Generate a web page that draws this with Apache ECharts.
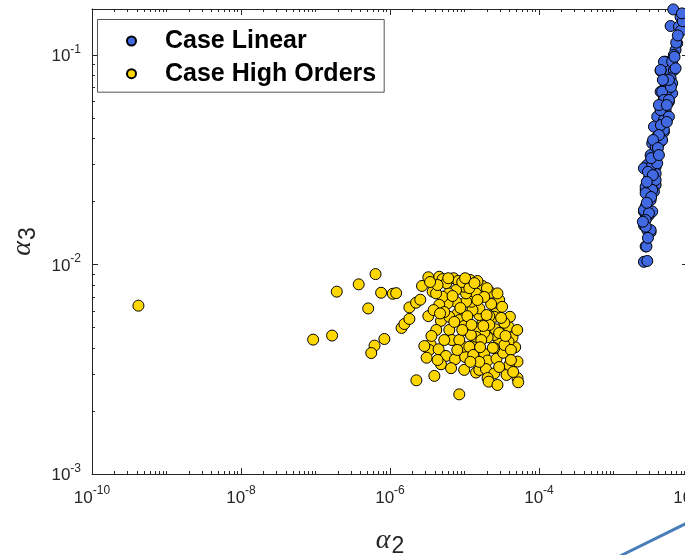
<!DOCTYPE html>
<html><head><meta charset="utf-8">
<script src="https://cdn.jsdelivr.net/npm/echarts@6/dist/echarts.min.js"></script>
<style>html,body{margin:0;padding:0;background:#fff}#c{width:685px;height:555px}</style>
</head><body><div id="c"></div>
<script>
const seriesNames = ['Case Linear', 'Case High Orders'];

const linearAlpha2 = [6.35e-3,7.95e-3,5.84e-3,7.54e-3,8.06e-3,7.16e-3,6.81e-3,6.46e-3,6.13e-3,5.0e-3,5.26e-3,4.29e-3,6.46e-3,5.84e-3,5.0e-3,4.29e-3,5.26e-3,6.13e-3,4.75e-3,5.54e-3,4.29e-3,5.0e-3,3.86e-3,4.75e-3,3.49e-3,4.75e-3,3.86e-3,3.31e-3,4.29e-3,3.86e-3,3.15e-3,3.49e-3,2.84e-3,3.68e-3,2.56e-3,3.15e-3,3.68e-3,2.99e-3,3.31e-3,2.99e-3,3.68e-3,2.70e-3,3.49e-3,2.84e-3,3.15e-3,2.70e-3,2.56e-3,2.99e-3,3.31e-3,2.70e-3,2.56e-3,2.84e-3,3.15e-3,2.70e-3,2.56e-3,2.84e-3,
6.94e-3,4.75e-3,6.13e-3,4.29e-3,6.81e-3,6.13e-3,5.26e-3,4.5e-3,4.75e-3,5.54e-3,4.29e-3,5.54e-3,4.75e-3,4.5e-3,3.68e-3,3.31e-3,3.86e-3,3.15e-3,3.68e-3,2.70e-3,3.31e-3,2.70e-3,2.56e-3,2.99e-3,2.70e-3,3.15e-3,2.70e-3,2.77e-3,4.07e-3,5.2e-3,4.33e-3,5.2e-3,4.07e-3,3.4e-3,3.95e-3,3.2e-3,4.07e-3,2.9e-3,3.37e-3,2.8e-3,3.2e-3,2.8e-3,2.48e-3,2.9e-3,5.9e-3,5.54e-3,4.6e-3,
8.5e-3,7.3e-3,6.6e-3,8.3e-3];
const linearAlpha3 = [0.165,0.152,0.1375,0.1365,0.1306,0.1137,0.1056,0.1,0.0947,0.0929,0.0848,0.0841,0.0848,0.0774,0.0706,0.0668,0.0656,0.0656,0.0621,0.0598,0.0557,0.0546,0.0508,0.0489,0.0455,0.043,0.0407,0.0379,0.0386,0.0345,0.0333,0.0315,0.0299,0.0293,0.0288,0.0277,0.0272,0.0258,0.0244,0.0244,0.024,0.0227,0.0223,0.0215,0.0203,0.0189,0.0179,0.0172,0.0179,0.0166,0.0154,0.0146,0.0143,0.0122,0.0103,0.0104,
0.1145,0.0929,0.0929,0.0848,0.0864,0.0733,0.0681,0.0668,0.061,0.061,0.0546,0.0508,0.0439,0.0393,0.0365,0.0299,0.0304,0.0263,0.0253,0.0235,0.0227,0.0219,0.0182,0.0176,0.0163,0.0146,0.01515,0.0122,0.0577,0.0577,0.0463,0.0479,0.0415,0.0393,0.036,0.0322,0.0333,0.0277,0.0267,0.0248,0.021,0.0197,0.016,0.0134,0.0704,0.076,0.076,
0.145,0.124,0.098,0.158];

const highAlpha2 = [4.2e-10,9.3e-8,1.67e-7,1.93e-7,3.8e-7,6.4e-7,5.1e-7,7.6e-7,1.09e-6,1.21e-6,8.4e-7,6.2e-7,5.6e-7,2.26e-6,3.94e-6,8.51e-6,1.43e-6,1.56e-6,1.82e-6,1.82e-6,2.24e-6,2.55e-6,3.27e-6,2.69e-6,3.27e-6,3.74e-6,4.58e-6,5.08e-6,7.14e-6,8.25e-6,1.19e-5,1.75e-5,2.26e-5,4.83e-6,6.25e-6,6.79e-6,3.51e-6,3.37e-6,3.1e-6,4.49e-6,5.64e-6,4.83e-6,7.45e-6,1.02e-5,9.62e-6,1.11e-5,1.43e-5,1.43e-5,1.84e-5,2.04e-5,2.69e-5,3.31e-5,1.43e-5,1.58e-5,1.94e-5,2.51e-5,2.04e-5,2.11e-5,3.67e-5,5.15e-5,5.26e-5,5.15e-5,4.79e-5,3.9e-5,4.07e-5,4.41e-5,3.9e-5,2.92e-5,2.51e-5,2.59e-5,2.04e-5,1.84e-5,3.42e-5,2.64e-5,2.51e-5,2.15e-5,1.75e-5,1.58e-5,1.58e-5,1.28e-5,1.24e-5,1.05e-5,7.69e-6,5.93e-6,8.08e-6,6.25e-6,8.51e-6,9.9e-6,1.43e-5,1.05e-5,9.9e-6,7.69e-6,6.12e-6,5.08e-6,4.15e-6,1.43e-5,1.43e-5,1.22e-5,1.16e-5,1.31e-5,
5.7e-6,9.33e-6,1.49e-5,2.0e-5,2.92e-5,3.2e-5,2.28e-5,1.84e-5,1.16e-5,6.9e-6,4.58e-6,3.85e-6,5.35e-6,1.09e-5,7.3e-6,1.24e-5,2.15e-5,2.92e-5,1.68e-5,3.42e-5,8.51e-6,5.35e-6,4.18e-6,8.0e-6,1.58e-5,2.51e-5,3.98e-5,2.92e-5,4.2e-5,5.1e-5,9.9e-6,6.6e-6,4.35e-6,3.6e-6,2.89e-6,2.77e-5,4.5e-5,2.4e-5,3.55e-5,1.98e-5,1.49e-5,8.8e-6,4.35e-6,3.45e-6,6.05e-6,1.02e-5,1.36e-5,4.7e-6,9.33e-6,1.79e-5,1.62e-5,1.2e-5,3.1e-5,2.77e-5,4.2e-5];
const highAlpha3 = [6.36e-3,4.38e-3,4.58e-3,7.42e-3,8.04e-3,9.0e-3,6.17e-3,7.33e-3,7.25e-3,7.3e-3,4.41e-3,4.1e-3,3.78e-3,2.8e-3,2.94e-3,2.4e-3,4.98e-3,5.2e-3,5.5e-3,6.24e-3,6.57e-3,6.79e-3,5.67e-3,7.9e-3,8.69e-3,7.42e-3,8.74e-3,8.51e-3,8.6e-3,8.35e-3,8.44e-3,7.9e-3,7.33e-3,5.38e-3,4.87e-3,4.36e-3,4.16e-3,3.91e-3,3.59e-3,3.94e-3,3.66e-3,3.34e-3,3.53e-3,3.62e-3,4.05e-3,4.82e-3,4.17e-3,3.67e-3,3.74e-3,3.48e-3,3.55e-3,3.79e-3,3.05e-3,3.14e-3,3.17e-3,3.02e-3,2.87e-3,2.76e-3,2.97e-3,2.87e-3,2.74e-3,3.44e-3,4.03e-3,5.05e-3,5.63e-3,4.49e-3,4.28e-3,4.25e-3,4.61e-3,4.91e-3,4.49e-3,4.73e-3,5.27e-3,5.84e-3,5.63e-3,5.67e-3,5.33e-3,5.74e-3,6.17e-3,6.06e-3,6.64e-3,6.64e-3,6.64e-3,6.53e-3,5.84e-3,5.63e-3,5.43e-3,5.09e-3,7.28e-3,7.28e-3,7.83e-3,7.55e-3,7.28e-3,7.02e-3,7.28e-3,4.96e-3,4.52e-3,4.61e-3,4.05e-3,3.7e-3,
8.15e-3,8.25e-3,8.34e-3,7.71e-3,6.77e-3,6.28e-3,6.48e-3,7.0e-3,7.71e-3,7.07e-3,6.42e-3,6.06e-3,5.93e-3,5.67e-3,5.32e-3,5.15e-3,5.15e-3,4.71e-3,4.36e-3,4.13e-3,4.36e-3,4.36e-3,4.87e-3,3.91e-3,3.43e-3,3.99e-3,3.31e-3,3.24e-3,3.91e-3,4.87e-3,3.14e-3,3.2e-3,3.5e-3,4.56e-3,4.08e-3,2.66e-3,3.07e-3,4.0e-3,4.56e-3,5.74e-3,6.77e-3,6.2e-3,7.98e-3,8.25e-3,8.6e-3,8.6e-3,8.15e-3,5.84e-3,4.87e-3,5.09e-3,4.03e-3,3.43e-3,5.56e-3,7.28e-3,3.5e-3];

const xRange = [1e-10, 1e-2];
const yRange = [1e-3, 0.1658];
const xMajorTicks = [1e-10, 1e-8, 1e-6, 1e-4, 1e-2];
const xTickLabels = ['-10', '-8', '-6', '-4', '-2'];
const yMajorTicks = [1e-3, 1e-2, 1e-1];
const yTickLabels = ['-3', '-2', '-1'];

function isMajor(v, majors) { return majors.some(t => Math.abs(Math.log10(t) - Math.log10(v)) < 1e-6); }
function minorTicks(majors, range) {
  const out = [];
  const k0 = Math.floor(Math.log10(range[0]) + 1e-9), k1 = Math.ceil(Math.log10(range[1]) - 1e-9);
  for (let k = k0; k < k1; k++) for (let m = 2; m <= 10; m++) {
    const v = m * Math.pow(10, k);
    if (v < range[0] * 0.999 || v > range[1] * 1.001) continue;
    if (!isMajor(v, majors)) out.push(v);
  }
  return out;
}
const xMinor = minorTicks(xMajorTicks, xRange);
const yMinor = minorTicks(yMajorTicks, yRange);

const TXT = '#262626';
const rich = {
  b: { fontFamily: 'Liberation Sans', fontSize: 17, color: TXT, padding: [3, 0, 0, 0] },
  s: { fontFamily: 'Liberation Sans', fontSize: 12, color: TXT, padding: [0, 0, 11, 0] }
};
function fmt(majors, labels) {
  return function (v) {
    for (let i = 0; i < majors.length; i++) if (Math.abs(Math.log10(majors[i]) - Math.log10(v)) < 1e-6) return '{b|10}{s|' + labels[i] + '}';
    return '';
  };
}
const lineStyle = { color: TXT, width: 1 };
const nameRich = () => ({ rich: {
  a: { fontFamily: 'Liberation Serif', fontStyle: 'italic', fontSize: 28, color: TXT },
  n: { fontFamily: 'Liberation Sans', fontSize: 23, color: TXT, padding: [12, 0, 0, 1] } } });
function mkX(pos, major, withLabel) {
  const a = {
    type: 'log', logBase: 10, min: xRange[0], max: xRange[1], position: pos, gridIndex: 0,
    axisLine: { show: major, onZero: false, lineStyle },
    axisTick: { show: true, inside: true, length: major ? 6 : 3, customValues: major ? xMajorTicks : xMinor, lineStyle },
    minorTick: { show: false }, splitLine: { show: false },
    axisLabel: withLabel ? { customValues: xMajorTicks, formatter: fmt(xMajorTicks, xTickLabels), rich, margin: 11, fontSize: 17, fontFamily: 'Liberation Sans', color: TXT } : { show: false }
  };
  if (withLabel) {
    a.name = '{a|α}{n|2}';
    a.nameLocation = 'middle';
    a.nameGap = 49;
    a.nameTextStyle = nameRich();
  }
  return a;
}
function mkY(pos, major, withLabel) {
  const a = {
    type: 'log', logBase: 10, min: yRange[0], max: yRange[1], position: pos, gridIndex: 0,
    axisLine: { show: major, onZero: false, lineStyle },
    axisTick: { show: true, inside: true, length: major ? 6 : 3, customValues: major ? yMajorTicks : yMinor, lineStyle },
    minorTick: { show: false }, splitLine: { show: false },
    axisLabel: withLabel ? { customValues: yMajorTicks, formatter: fmt(yMajorTicks, yTickLabels), rich, margin: 11, fontSize: 17, fontFamily: 'Liberation Sans', color: TXT } : { show: false }
  };
  if (withLabel) {
    a.name = '{a|α}{n|3}';
    a.nameLocation = 'middle';
    a.nameRotate = 90;
    a.nameGap = 51;
    a.nameTextStyle = nameRich();
  }
  return a;
}

const chart = echarts.init(document.getElementById('c'), null, { renderer: 'canvas' });
chart.setOption({
  animation: false,
  backgroundColor: '#fff',
  grid: { left: 92, top: 9, width: 596, height: 465, containLabel: false, outerBoundsMode: 'none' },
  xAxis: [mkX('bottom', true, true), mkX('bottom', false, false), mkX('top', true, false), mkX('top', false, false)],
  yAxis: [mkY('left', true, true), mkY('left', false, false), mkY('right', true, false), mkY('right', false, false)],
  legend: {
    orient: 'vertical', left: 97.5, top: 19.5,
    padding: [7.5, 8, 4.5, 28.5], itemGap: 4.7, itemWidth: 9, itemHeight: 9, icon: 'circle',
    backgroundColor: '#fff', borderColor: '#555', borderWidth: 1, borderRadius: 0,
    textStyle: { fontFamily: 'Liberation Sans', fontWeight: 'bold', fontSize: 25, color: '#000', lineHeight: 28, padding: [0, 0, 0, 24] },
    data: seriesNames
  },
  series: [
    { name: seriesNames[0], type: 'scatter', xAxisIndex: 0, yAxisIndex: 0, symbol: 'circle', symbolSize: 11, clip: false,
      itemStyle: { color: '#4169E1', borderColor: '#000', borderWidth: 1, opacity: 1 },
      data: linearAlpha2.map((x, i) => [x, linearAlpha3[i]]) },
    { name: seriesNames[1], type: 'scatter', xAxisIndex: 0, yAxisIndex: 0, symbol: 'circle', symbolSize: 11, clip: false,
      itemStyle: { color: '#FFD700', borderColor: '#000', borderWidth: 1, opacity: 1 },
      data: highAlpha2.map((x, i) => [x, highAlpha3[i]]) }
  ],
  graphic: [{ type: 'line', shape: { x1: 620, y1: 556, x2: 687, y2: 523 }, style: { stroke: '#4a7ebb', lineWidth: 3 }, silent: true }]
});
</script></body></html>
